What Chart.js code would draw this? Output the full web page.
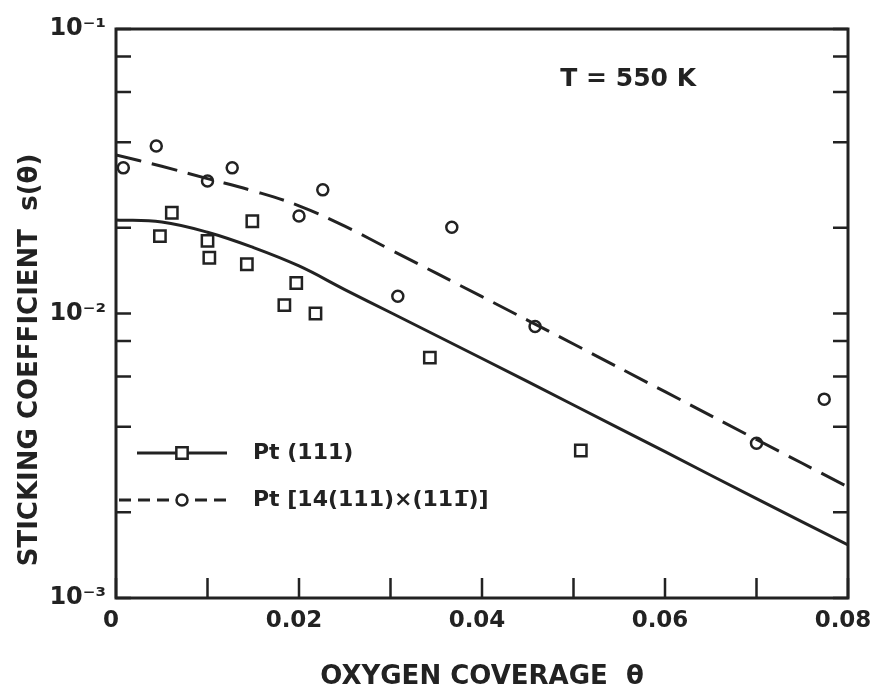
<!DOCTYPE html>
<html>
<head>
<meta charset="utf-8">
<script src="https://cdn.jsdelivr.net/npm/chart.js@4.4.1/dist/chart.umd.min.js"></script>
<style>
  html, body { margin: 0; padding: 0; background: #fff; }
  #wrap { width: 875px; height: 690px; }
</style>
</head>
<body>
<div id="wrap"><canvas id="stickChart"></canvas></div>
<script>
// measured points, Pt(111)
const pt111Theta = [0.0048, 0.0061, 0.0100, 0.0102, 0.0149, 0.0143, 0.0197, 0.0184, 0.0218, 0.0343, 0.0508];
const pt111S     = [0.0187, 0.0226, 0.0180, 0.0157, 0.0211, 0.0149, 0.0128, 0.0107, 0.0100, 0.0070, 0.0033];

// measured points, stepped Pt[14(111)x(11-1)]
const stepTheta = [0.0008, 0.0044, 0.0100, 0.0127, 0.0200, 0.0226, 0.0308, 0.0367, 0.0458, 0.0700, 0.0774];
const stepS     = [0.0325, 0.0388, 0.0292, 0.0325, 0.0220, 0.0272, 0.0115, 0.0201, 0.0090, 0.0035, 0.0050];

// the two drawn curves
const curveTheta = [0, 0.005, 0.01, 0.015, 0.02, 0.025, 0.03, 0.04, 0.05, 0.06, 0.07, 0.08];
const pt111Curve = [0.02132, 0.02097, 0.01930, 0.01706, 0.01469, 0.01214, 0.01008, 0.006948, 0.004768, 0.003268, 0.002234, 0.001536];
const stepCurve  = [0.03606, 0.03292, 0.02980, 0.02697, 0.02391, 0.02027, 0.01676, 0.011457, 0.007812, 0.005311, 0.003606, 0.002456];

const xTickValues = [0, 0.01, 0.02, 0.03, 0.04, 0.05, 0.06, 0.07, 0.08];
const xTickLabels = ['0', '', '0.02', '', '0.04', '', '0.06', '', '0.08'];
const yTickValues = [0.001, 0.002, 0.004, 0.006, 0.008, 0.01, 0.02, 0.04, 0.06, 0.08, 0.1];
const yTickLabels = ['10\u207B\u00B3', '', '', '', '', '10\u207B\u00B2', '', '', '', '', '10\u207B\u00B9'];

const ink = '#222';
const fontFamily = "'DejaVu Sans', sans-serif";

function pairs(xs, ys) {
  return xs.map((x, i) => ({ x: x, y: ys[i] }));
}
function labelFor(values, labels, v) {
  const i = values.findIndex(t => Math.abs(t - v) < 1e-9);
  return i < 0 ? '' : labels[i];
}

// frame + inward tick marks
const frameTicks = {
  id: 'frameTicks',
  afterDatasetsDraw(chart) {
    const { ctx, chartArea: a, scales } = chart;
    ctx.save();
    ctx.strokeStyle = ink;
    ctx.lineWidth = 3;
    ctx.strokeRect(a.left, a.top, a.right - a.left, a.bottom - a.top);
    ctx.lineWidth = 2.5;
    ctx.beginPath();
    yTickValues.forEach(v => {
      const y = scales.y.getPixelForValue(v);
      ctx.moveTo(a.left, y); ctx.lineTo(a.left + 15, y);
      ctx.moveTo(a.right, y); ctx.lineTo(a.right - 15, y);
    });
    xTickValues.forEach(v => {
      const x = scales.x.getPixelForValue(v);
      ctx.moveTo(x, a.bottom); ctx.lineTo(x, a.bottom - 20);
    });
    ctx.stroke();
    ctx.restore();
  }
};

// legend box in the lower left + temperature note + y title
const notes = {
  id: 'notes',
  afterDraw(chart) {
    const ctx = chart.ctx;
    const ds = chart.data.datasets;
    ctx.save();
    ctx.fillStyle = ink;
    ctx.strokeStyle = ink;
    ctx.textBaseline = 'middle';

    const rows = [
      { mark: ds[2], y: 453, x0: 137, dash: [] },
      { mark: ds[3], y: 500, x0: 119, dash: [12, 7] }
    ];
    rows.forEach(r => {
      ctx.lineWidth = 3;
      ctx.setLineDash(r.dash);
      ctx.beginPath();
      ctx.moveTo(r.x0, r.y); ctx.lineTo(227, r.y);
      ctx.stroke();
      ctx.setLineDash([]);
      ctx.fillStyle = '#fff';
      ctx.lineWidth = r.mark.borderWidth;
      Chart.helpers.drawPoint(ctx, {
        pointStyle: r.mark.pointStyle,
        radius: r.mark.pointRadius,
        borderWidth: r.mark.borderWidth,
        rotation: 0
      }, 182, r.y);
      ctx.fillStyle = ink;
      ctx.font = 'bold 22px ' + fontFamily;
      ctx.textAlign = 'left';
      ctx.fillText(r.mark.label, 253, r.y);
    });

    ctx.font = 'bold 25px ' + fontFamily;
    ctx.textAlign = 'right';
    ctx.fillText('T = 550 K', 696, 79);

    ctx.translate(30, 360);
    ctx.rotate(-Math.PI / 2);
    ctx.textAlign = 'center';
    ctx.font = 'bold 26px ' + fontFamily;
    ctx.fillText('STICKING COEFFICIENT  s(\u03B8)', 0, 0);
    ctx.restore();
  }
};

const ctx = document.getElementById('stickChart').getContext('2d');

const chart = new Chart(ctx, {
  type: 'scatter',
  data: {
    datasets: [{
      label: 'Pt (111) curve',
      data: pairs(curveTheta, pt111Curve),
      showLine: true,
      borderColor: ink,
      borderWidth: 3,
      pointRadius: 0,
      tension: 0.4
    }, {
      label: 'Pt [14(111)\u00D7(111\u0305)] curve',
      data: pairs(curveTheta, stepCurve),
      showLine: true,
      borderColor: ink,
      borderWidth: 3,
      borderDash: [26, 11],
      pointRadius: 0,
      tension: 0.4
    }, {
      label: 'Pt (111)',
      data: pairs(pt111Theta, pt111S),
      pointStyle: 'rect',
      pointRadius: 8,
      borderWidth: 2.5,
      borderColor: ink,
      backgroundColor: '#fff'
    }, {
      label: 'Pt [14(111)\u00D7(111\u0305)]',
      data: pairs(stepTheta, stepS),
      pointStyle: 'circle',
      pointRadius: 5.5,
      borderWidth: 2.5,
      borderColor: ink,
      backgroundColor: '#fff'
    }]
  },
  options: {
    responsive: true,
    maintainAspectRatio: false,
    animation: false,
    layout: { padding: { top: 29, right: 27, bottom: 0, left: 0 } },
    plugins: {
      legend: { display: false },
      tooltip: { enabled: false }
    },
    scales: {
      x: {
        type: 'linear',
        min: 0,
        max: 0.08,
        grid: { display: false, drawTicks: false },
        border: { display: false },
        afterBuildTicks: s => { s.ticks = xTickValues.map(v => ({ value: v })); },
        afterFit: s => { s.height = 92; s.paddingLeft = 0; s.paddingRight = 0; },
        ticks: {
          autoSkip: false,
          maxRotation: 0,
          padding: 9,
          labelOffset: -5,
          color: ink,
          font: { family: fontFamily, size: 23, weight: 'bold' },
          callback: v => labelFor(xTickValues, xTickLabels, v)
        },
        title: {
          display: true,
          text: 'OXYGEN COVERAGE  \u03B8',
          color: ink,
          font: { family: fontFamily, size: 26, weight: 'bold', lineHeight: 1.0 },
          padding: { top: 0, bottom: 0 }
        }
      },
      y: {
        type: 'logarithmic',
        min: 0.001,
        max: 0.1,
        grid: { display: false, drawTicks: false },
        border: { display: false },
        afterBuildTicks: s => { s.ticks = yTickValues.map(v => ({ value: v })); },
        afterFit: s => { s.width = 116; s.paddingTop = 0; s.paddingBottom = 0; },
        ticks: {
          autoSkip: false,
          padding: 10,
          color: ink,
          font: { family: fontFamily, size: 24, weight: 'bold' },
          callback: v => labelFor(yTickValues, yTickLabels, v)
        }
      }
    }
  },
  plugins: [frameTicks, notes]
});
</script>
</body>
</html>
